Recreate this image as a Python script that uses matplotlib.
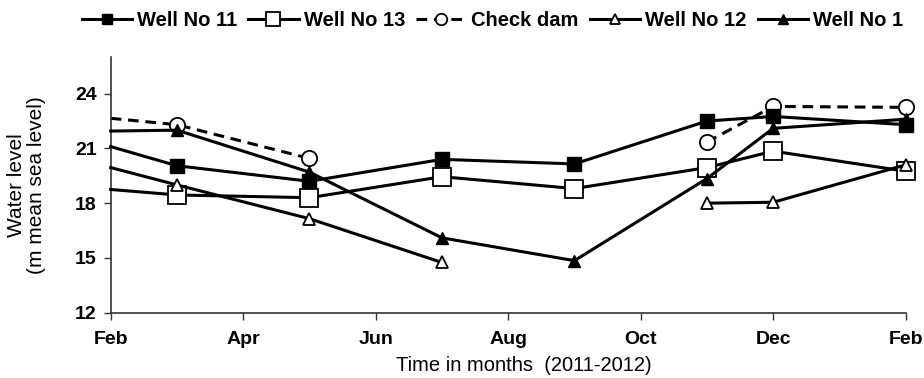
import numpy as np
import matplotlib.pyplot as plt

plt.rcParams['font.family'] = ['Liberation Sans', 'DejaVu Sans']

# months counted from Feb 2011; first point sits on the axis (no marker drawn)
months = [0, 1, 3, 5, 7, 9, 10, 12]
tick_pos = [0, 2, 4, 6, 8, 10, 12]
tick_labels = ['Feb', 'Apr', 'Jun', 'Aug', 'Oct', 'Dec', 'Feb']

well_11 = [21.1, 20.05, 19.2, 20.4, 20.15, 22.5, 22.75, 22.3]
well_13 = [18.75, 18.45, 18.3, 19.45, 18.8, 19.95, 20.85, 19.75]
check_dam = [22.65, 22.3, 20.45, np.nan, np.nan, 21.35, 23.3, 23.25]
well_12 = [19.95, 19.0, 17.15, 14.75, np.nan, 18.0, 18.05, 20.1]
well_1 = [21.95, 22.0, 19.7, 16.1, 14.85, 19.35, 22.1, 22.6]


def main():
    fig = plt.figure(figsize=(9.24, 3.78), dpi=100)
    ax = fig.add_axes([0.1198, 0.1728, 0.8604, 0.676])

    lw = 2.2
    mk = list(range(1, len(months)))
    styles = [
        (well_11, 'Well No 11', dict(marker='s', ms=10, mfc='black', ls='-', zorder=3)),
        (well_13, 'Well No 13', dict(marker='s', ms=13, mfc='white', mew=1.3, ls='-', zorder=3)),
        (check_dam, 'Check dam', dict(marker='o', ms=11, mfc='white', mew=1.3,
                                      ls=(0, (3.5, 2.2)), zorder=2)),
        (well_12, 'Well No 12', dict(marker='^', ms=9, mfc='white', mew=1.3, ls='-', zorder=3)),
        (well_1, 'Well No 1', dict(marker='^', ms=9, mfc='black', ls='-', zorder=3)),
    ]
    for vals, name, st in styles:
        ax.plot(months, vals, color='black', mec='black', lw=lw,
                markevery=mk, label=name, clip_on=False, **st)

    ax.set_xlim(0, 12)
    ax.set_ylim(12, 26)
    ax.set_xticks(tick_pos)
    ax.set_xticklabels(tick_labels)
    ax.set_yticks([12, 15, 18, 21, 24])
    ax.tick_params(labelsize=14, length=5, width=1, color='#333333')
    ax.tick_params(axis='x', pad=8)
    ax.tick_params(axis='y', pad=5)
    for lab in ax.get_xticklabels() + ax.get_yticklabels():
        lab.set_fontweight('bold')

    for s in ['top', 'right']:
        ax.spines[s].set_visible(False)
    for s in ['left', 'bottom']:
        ax.spines[s].set_color('#333333')
        ax.spines[s].set_linewidth(1.2)

    ax.set_xlabel('Time in months  (2011-2012)', fontsize=14.5)
    ax.xaxis.set_label_coords(0.52, -0.17)
    ax.set_ylabel('Water level\n(m mean sea level)', fontsize=15, linespacing=1.1)
    ax.yaxis.set_label_coords(-0.081, 0.5)

    handles, labels = ax.get_legend_handles_labels()
    fig.legend(handles, labels, loc='center', bbox_to_anchor=(0.533, 0.945),
               ncol=5, frameon=False, handlelength=2.5, handletextpad=0.25,
               columnspacing=0.55, prop={'weight': 'bold', 'size': 14.5},
               markerscale=0.75, borderaxespad=0)

    fig.savefig('out.png', dpi=100)


if __name__ == "__main__":
    main()
